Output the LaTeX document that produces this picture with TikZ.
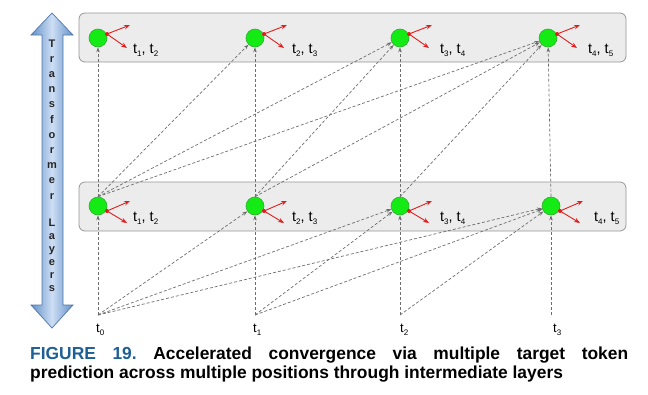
\documentclass[tikz,border=0pt]{standalone}
\usepackage{fontspec}
\setmainfont{Liberation Sans}
\usetikzlibrary{arrows.meta,calc}
\definecolor{panelfill}{RGB}{236,236,236}
\definecolor{paneldraw}{RGB}{150,150,150}
\definecolor{nodegreen}{RGB}{20,235,20}
\definecolor{nodeedge}{RGB}{50,170,50}
\definecolor{redarr}{RGB}{225,30,30}
\definecolor{dashgray}{RGB}{110,110,110}
\definecolor{capblue}{RGB}{30,95,150}
\definecolor{arrowedge}{RGB}{80,120,170}
\definecolor{arrowdark}{RGB}{100,145,200}
\definecolor{arrowlight}{RGB}{205,222,245}
\newcommand\tsub[1]{\raisebox{-0.45ex}{\fontsize{8}{8}\selectfont #1}}
\frenchspacing
\begin{document}
\begin{tikzpicture}[x=1pt,y=-1pt,
 panel/.style={draw=paneldraw, fill=panelfill, rounded corners=6pt, line width=0.8pt},
 neuron/.style={circle, draw=nodeedge, fill=nodegreen, minimum size=18pt, inner sep=0pt, line width=0.6pt},
 conn/.style={draw=dashgray, dash pattern=on 3pt off 2pt, line width=0.7pt, -{Stealth[length=5pt,width=3.5pt]}},
 outarrow/.style={draw=redarr, line width=0.9pt, -{Stealth[length=6pt,width=4.5pt]}},
 tlabel/.style={font=\fontsize{14.5}{14.5}\selectfont, anchor=base west, inner sep=0pt},
 inlabel/.style={font=\fontsize{13}{13}\selectfont, anchor=base west, inner sep=0pt},
 letter/.style={font=\bfseries\fontsize{11}{11}\selectfont, text=black!85, inner sep=0pt, anchor=base}
]
\useasboundingbox (0,0) rectangle (648,394);

% big double arrow
\path[draw=arrowedge, line width=0.7pt, left color=arrowdark, right color=arrowdark, middle color=arrowlight]
  (52,13) -- (73,35) -- (63,35) -- (63,305) -- (73,305) -- (52,328) -- (31,305) -- (42,305) -- (42,35) -- (31,35) -- cycle;
\foreach \ch [count=\i from 0] in {T,r,a,n,s,f,o,r,m,e,r}
  \node[letter] (LA\i) at (52, {47+15.2*\i}) {\ch};
\foreach \ch [count=\i from 0] in {L,a,y,e,r,s}
  \node[letter] (LB\i) at (52, {226+13*\i}) {\ch};

% panels
\draw[panel] (79,13) rectangle (626,62);
\draw[panel] (79,182) rectangle (626,231);

% neurons
\foreach \n/\x in {0/98,1/255,2/400,3/548}
  \node[neuron] (T\n) at (\x,38) {};
\foreach \n/\x in {0/98,1/255,2/400,3/551}
  \node[neuron] (B\n) at (\x,206) {};
\foreach \n/\x in {0/98,1/255,2/400,3/551}
  \coordinate (I\n) at (\x,315);

% red output arrows
\foreach \n in {0,...,3}{
  \coordinate (TD\n) at ($(T\n)+(9,-4)$);
  \coordinate (TU\n) at ($(T\n)+(32,-13)$);
  \coordinate (TL\n) at ($(T\n)+(29,10)$);
  \draw[outarrow] (TD\n) -- (TU\n);
  \draw[outarrow] (TD\n) -- (TL\n);
  \fill[redarr] (TD\n) circle (2pt);
  \coordinate (BD\n) at ($(B\n)+(9,5)$);
  \coordinate (BU\n) at ($(B\n)+(32,-5)$);
  \coordinate (BL\n) at ($(B\n)+(29,17)$);
  \draw[outarrow] (BD\n) -- (BU\n);
  \draw[outarrow] (BD\n) -- (BL\n);
  \fill[redarr] (BD\n) circle (2pt);
}

% labels
\node[tlabel] (lt0) at (133,53) {t\tsub{1}, t\tsub{2}};
\node[tlabel] (lt1) at (292,53) {t\tsub{2}, t\tsub{3}};
\node[tlabel] (lt2) at (440,53) {t\tsub{3}, t\tsub{4}};
\node[tlabel] (lt3) at (588,53) {t\tsub{4}, t\tsub{5}};
\node[tlabel] (lb0) at (133,221) {t\tsub{1}, t\tsub{2}};
\node[tlabel] (lb1) at (292,221) {t\tsub{2}, t\tsub{3}};
\node[tlabel] (lb2) at (440,221) {t\tsub{3}, t\tsub{4}};
\node[tlabel] (lb3) at (594,221) {t\tsub{4}, t\tsub{5}};
\node[inlabel] (in0) at (96,332) {t\tsub{0}};
\node[inlabel] (in1) at (253,332) {t\tsub{1}};
\node[inlabel] (in2) at (400,332) {t\tsub{2}};
\node[inlabel] (in3) at (553,332) {t\tsub{3}};

% connectors
\foreach \i in {0,...,3}{
  \foreach \j in {\i,...,3}{
    \draw[conn] (I\i) -- (B\j);
    \draw[conn] (B\i.north) -- (T\j);
  }
}

% caption
\node[anchor=north west, text width=598pt, align=justify, inner sep=0pt,
      font=\bfseries\fontsize{17.4}{19}\selectfont] (cap) at (30,346.5)
 {\textcolor{capblue}{FIGURE 19.} Accelerated convergence via multiple target token\linebreak prediction across multiple positions through intermediate layers};
\end{tikzpicture}
\end{document}
